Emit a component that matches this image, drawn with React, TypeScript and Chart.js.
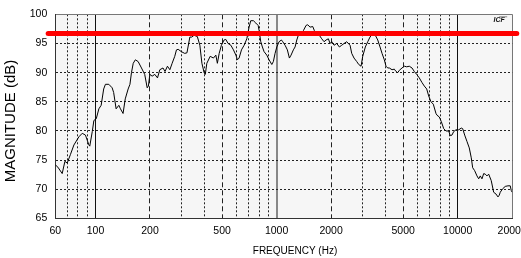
import React, { useEffect, useRef } from "react";
import { Chart, registerables } from "chart.js";
Chart.register(...registerables);

// Frequency (Hz) of each traced point
const FREQ = [
  60, 62, 65.5, 67.8, 69.8, 72.8, 76, 81, 84.5, 88, 92, 93, 96, 98, 101, 104.4, 107.5, 111, 113.5,
  118.5, 123.6, 126, 130, 134.6, 137.4, 142, 146, 151.5, 155, 158, 161.6, 166, 172, 179.5, 187,
  193, 196, 199.6, 205.5, 212.6, 220, 226.6, 236, 242, 249.7, 257.5, 265, 274, 280, 286, 298,
  311, 320, 332, 340, 350, 365, 377, 387, 398, 404, 412, 430, 448, 462, 471, 482, 496, 513, 524,
  540, 559, 578, 596, 608, 621, 640, 662, 685, 705, 720, 745, 768, 791, 801, 818, 835, 853, 883,
  909, 941, 960, 981, 1003, 1032, 1063, 1082, 1114, 1147, 1177, 1202, 1238, 1265, 1293, 1319,
  1360, 1406, 1455, 1486, 1531, 1584, 1617, 1667, 1722, 1776, 1829, 1876, 1932, 1974, 2017,
  2077, 2149, 2222, 2290, 2358, 2440, 2490, 2545, 2600, 2677, 2771, 2842, 2927, 2990, 3091,
  3187, 3281, 3396, 3510, 3619, 3726, 3822, 3935, 4020, 4108, 4193, 4340, 4467, 4566, 4667,
  4762, 4928, 5074, 5230, 5406, 5595, 5761, 5938, 6138, 6353, 6542, 6745, 6918, 7124, 7334,
  7589, 7690, 7916, 8121, 8371, 8617, 8918, 9103, 9301, 9506, 9786, 10127, 10468, 10656, 10930,
  11254, 11588, 11886, 12100, 12410, 12780, 13060, 13330, 13620, 13920, 14200, 14510, 14830,
  15320, 15800, 16270, 16690, 16970, 17180, 17720, 18310, 18950, 19510, 19760, 20000,
];

// Magnitude (dB) at each frequency above
const MAG = [
  74.2, 73.8, 72.7, 74.8, 74.5, 76, 77.6, 79, 79.6, 79.3, 77.6, 77.4, 79.9, 81.8, 82.1, 83.8, 84.4,
  87.2, 88, 88, 87.4, 86.6, 83.8, 84.4, 83.8, 83, 85.5, 87.2, 88, 90, 91.6, 92.2, 91.9, 90.8, 89.7,
  87.4, 87.7, 89.7, 89.4, 89.7, 89.1, 90.5, 90.8, 90.2, 91.1, 90.5, 91.6, 92.8, 93.9, 94, 93.6,
  93.3, 93.4, 96.1, 96.1, 96.4, 96.2, 94.7, 91.6, 90, 89.7, 91.6, 92.8, 92.5, 93, 91.6, 93.3,
  94.7, 95.6, 95.7, 95, 94.7, 93.9, 93, 92.2, 92.5, 93.9, 94.7, 95.8, 97.8, 98.9, 98.9, 98.5, 98.1,
  97.2, 95.3, 94.4, 93.6, 93, 92.2, 91.4, 91.9, 93.3, 94.4, 95.3, 95.6, 95.3, 94.7, 93.9, 92.5, 93,
  93.9, 94.4, 95.6, 96.4, 96.7, 97.2, 98.1, 98.2, 97.8, 97.9, 97.2, 96.7, 96.4, 95.8, 95.3, 95.6,
  95.8, 95, 95.3, 94.7, 95, 94.4, 94.7, 95, 95.3, 95, 94.7, 93.3, 92.5, 91.9, 91.4, 91.1, 92.8,
  94.4, 95.3, 96.1, 96.7, 96.4, 95.6, 94.4, 93.3, 92.2, 91.1, 90.8, 90.8, 90.5, 90.6, 90.2, 90,
  90.4, 90.8, 91.1, 91, 91.1, 90.8, 90.2, 89.7, 89.1, 88.3, 87.7, 87.2, 86, 85, 84.6, 83, 82.7,
  82.4, 81.6, 80.4, 80, 80, 79.2, 79.3, 79.9, 80.2, 80.2, 80.5, 80.4, 79.3, 78.2, 77.1, 75.4, 73.7,
  73.2, 72.3, 71.8, 72.3, 71.8, 72.7, 72.6, 72.3, 72.6, 71.5, 69.5, 69.2, 68.7, 69, 69.5, 70.1,
  70.5, 70.6, 70.6, 69.8, 69.5,
];

// Red reference level and its horizontal span (Hz)
const REF_LEVEL = 96.7;
const REF_SPAN = [54.8, 21200];

const X_MIN = 60;
const X_MAX = 20000;
const X_TICK_LABELS = [60, 100, 200, 500, 1000, 2000, 5000, 10000, 20000];
const X_GRID = [
  60, 70, 80, 90, 100, 200, 300, 400, 500, 600, 700, 800, 900, 1000, 2000, 3000, 4000, 5000, 6000,
  7000, 8000, 9000, 10000, 20000,
];
const Y_MIN = 65;
const Y_MAX = 100;
const Y_STEP = 5;

const X_TITLE = "FREQUENCY (Hz)";
const Y_TITLE = "MAGNITUDE (dB)";
const LOGO = "ICF";

const FONT = "'Liberation Sans', Arial, Helvetica, sans-serif";

function xGridKind(v: number): string {
  if (v === X_MIN) return "none";
  if (v === X_MAX) return "frame";
  if (v === 1000) return "mid";
  const lead = Math.round(v / Math.pow(10, Math.floor(Math.log10(v) + 1e-9)));
  if (lead === 1) return "solid";
  if (lead === 2 || lead === 5) return "dash";
  return "dot";
}

export default function App() {
  const ref = useRef<HTMLCanvasElement | null>(null);

  useEffect(() => {
    const canvas = ref.current;
    if (!canvas) return;

    const decorPlugin = {
      id: "decor",
      beforeDraw(chart: any) {
        const { ctx, chartArea } = chart;
        ctx.save();
        ctx.fillStyle = "#f6f6f6";
        ctx.fillRect(chartArea.left, chartArea.top, chartArea.right - chartArea.left, chartArea.bottom - chartArea.top);
        ctx.restore();
      },
      afterDraw(chart: any) {
        const { ctx, chartArea } = chart;
        ctx.save();
        // axis titles
        ctx.fillStyle = "#000";
        ctx.textAlign = "center";
        ctx.textBaseline = "middle";
        ctx.font = `10px ${FONT}`;
        ctx.fillText(X_TITLE, 295, 251);
        ctx.save();
        ctx.translate(11, 121);
        ctx.rotate(-Math.PI / 2);
        ctx.font = `15px ${FONT}`;
        ctx.fillText(Y_TITLE, 0, 0);
        ctx.restore();
        // logo
        const lx = chartArea.right - 13;
        const ly = chartArea.top + 8;
        ctx.fillStyle = "#111";
        ctx.font = `italic bold 7px ${FONT}`;
        ctx.textBaseline = "alphabetic";
        ctx.fillText(LOGO, lx, ly);
        ctx.strokeStyle = "#888";
        ctx.lineWidth = 1;
        ctx.beginPath();
        ctx.moveTo(lx, chartArea.top + 2.5);
        ctx.lineTo(lx + 8, chartArea.top + 2.5);
        ctx.stroke();
        ctx.restore();
      },
    };

    const chart = new Chart(canvas, {
      type: "line",
      data: {
        datasets: [
          {
            data: REF_SPAN.map((f) => ({ x: f, y: REF_LEVEL })),
            borderColor: "#ff0000",
            borderWidth: 5,
            borderCapStyle: "round",
            pointRadius: 0,
            clip: false as any,
          },
          {
            data: FREQ.map((f, i) => ({ x: f, y: MAG[i] })),
            borderColor: "#000000",
            borderWidth: 1,
            pointRadius: 0,
            tension: 0,
          },
        ],
      },
      plugins: [decorPlugin],
      options: {
        animation: false,
        responsive: false,
        events: [],
        layout: { padding: { top: 10.3, right: 8.8, left: 0, bottom: 0 } },
        plugins: { legend: { display: false }, tooltip: { enabled: false } },
        scales: {
          x: {
            type: "logarithmic",
            min: X_MIN,
            max: X_MAX,
            afterBuildTicks(scale: any) {
              scale.ticks = X_GRID.map((v) => ({ value: v }));
            },
            afterFit(scale: any) {
              scale.height = 258 - 218.5;
              scale.paddingLeft = 0;
              scale.paddingRight = 0;
            },
            ticks: {
              autoSkip: false,
              maxRotation: 0,
              minRotation: 0,
              padding: 6,
              color: "#000",
              font: { family: FONT, size: 10.5 },
              callback: (v: any) => (X_TICK_LABELS.includes(Number(v)) ? String(v) : ""),
            },
            grid: {
              drawTicks: false,
              lineWidth: (c: any) => (c.tick && xGridKind(c.tick.value) === "mid" ? 2 : 1),
              color: (c: any) => {
                const k = c.tick ? xGridKind(c.tick.value) : "none";
                if (k === "none") return "rgba(0,0,0,0)";
                if (k === "frame") return "#777";
                if (k === "mid") return "#888";
                if (k === "solid") return "#111";
                return "#222";
              },
            },
            border: {
              display: true,
              color: "#333",
              width: 1,
              dash: (c: any) => {
                const k = c.tick ? xGridKind(c.tick.value) : "solid";
                if (k === "dash") return [5, 3];
                if (k === "dot") return [2, 2];
                return [];
              },
            },
          },
          y: {
            type: "linear",
            min: Y_MIN,
            max: Y_MAX,
            afterFit(scale: any) {
              scale.width = 55.3;
            },
            ticks: {
              stepSize: Y_STEP,
              padding: 8,
              color: "#000",
              font: { family: FONT, size: 10.5 },
            },
            grid: {
              drawTicks: false,
              lineWidth: 1,
              color: (c: any) => {
                const v = c.tick ? c.tick.value : Y_MIN;
                if (v === Y_MIN) return "rgba(0,0,0,0)";
                if (v === Y_MAX) return "#777";
                return "#222";
              },
            },
            border: {
              display: true,
              color: "#333",
              width: 1,
              dash: (c: any) => {
                const v = c.tick ? c.tick.value : Y_MIN;
                if (v === Y_MAX || v === Y_MIN) return [];
                return [2, 2];
              },
            },
          },
        },
      } as any,
    });

    return () => chart.destroy();
  }, []);

  return (
    <div style={{ position: "fixed", left: 0, top: 0, width: 521, height: 258, background: "#fff" }}>
      <canvas ref={ref} width={521} height={258} style={{ display: "block", width: 521, height: 258 }} />
    </div>
  );
}
